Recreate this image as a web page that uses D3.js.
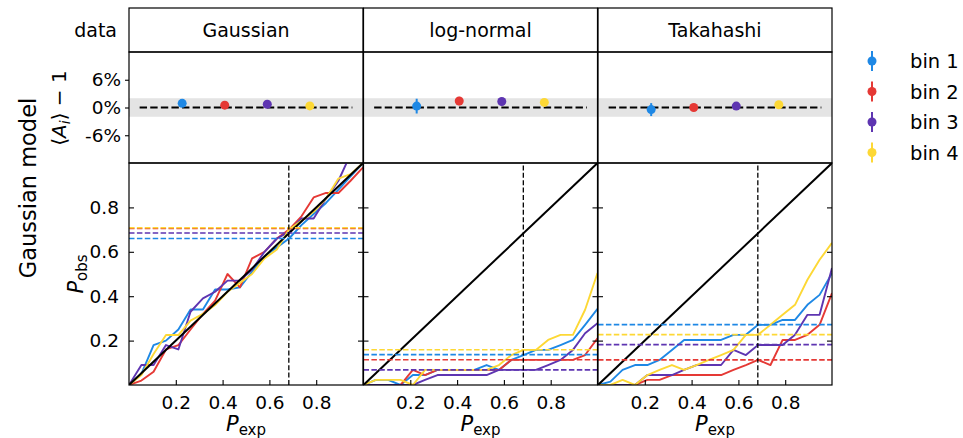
<!DOCTYPE html>
<html><head><meta charset="utf-8">
<script src="https://cdn.jsdelivr.net/npm/d3@7"></script>
<style>body{margin:0;background:#fff}svg{display:block;font-family:"DejaVu Sans",sans-serif}</style>
</head><body>
<script>
// ---------- data ----------
const datasets = ["Gaussian", "log-normal", "Takahashi"];
const binLabels = ["bin 1", "bin 2", "bin 3", "bin 4"];
const binColors = ["#1E88E5", "#E53935", "#5E35B1", "#FDD835"];
const binIndex = [1, 2, 3, 4];
// mean amplitude offset <A_i> - 1 in %, and its error
const meanOffset = [[0.9, 0.5, 0.7, 0.35], [0.3, 1.4, 1.3, 1.1], [-0.45, 0.0, 0.3, 0.6]];
const meanError  = [[0.3, 0.3, 0.3, 0.3], [1.6, 0.9, 0.4, 0.3], [1.4, 0.4, 0.4, 0.4]];
const offsetTicks = [-6, 0, 6];
const offsetTickLabels = ["-6%", "0%", "6%"];
const probTicks = [0.2, 0.4, 0.6, 0.8];
const pExp = [0, 0.053, 0.105, 0.158, 0.211, 0.263, 0.316, 0.368, 0.421, 0.474, 0.526, 0.579, 0.632, 0.684, 0.737, 0.789, 0.842, 0.895, 0.947, 1.0];
const gaussianObs = [
  [0, 0.05, 0.18, 0.20, 0.25, 0.34, 0.34, 0.43, 0.43, 0.44, 0.51, 0.58, 0.62, 0.66, 0.72, 0.77, 0.82, 0.88, 0.94, 1.0],
  [0, 0.02, 0.06, 0.16, 0.18, 0.25, 0.32, 0.38, 0.50, 0.44, 0.57, 0.60, 0.66, 0.70, 0.76, 0.845, 0.865, 0.865, 0.92, 0.98],
  [0, 0.09, 0.09, 0.18, 0.16, 0.33, 0.39, 0.42, 0.47, 0.47, 0.52, 0.60, 0.66, 0.69, 0.75, 0.75, 0.84, 0.92, 1.04, 1.12],
  [0, 0.045, 0.14, 0.225, 0.225, 0.29, 0.32, 0.36, 0.42, 0.46, 0.50, 0.57, 0.61, 0.70, 0.74, 0.78, 0.84, 0.93, 0.95, 1.0]
];
const lognormalObs = [
  [0, 0.023, 0.023, 0, 0.045, 0.045, 0.068, 0.068, 0.068, 0.068, 0.09, 0.068, 0.113, 0.135, 0.158, 0.158, 0.18, 0.203, 0.271, 0.343],
  [0, 0, 0, 0, 0.068, 0.045, 0.068, 0.068, 0.068, 0.068, 0.068, 0.068, 0.113, 0.113, 0.113, 0.113, 0.113, 0.113, 0.135, 0.21],
  [0, 0, 0, 0, 0, 0.023, 0.045, 0.045, 0.045, 0.045, 0.045, 0.068, 0.068, 0.068, 0.068, 0.09, 0.113, 0.158, 0.233, 0.278],
  [0, 0.023, 0.023, 0.023, 0, 0.068, 0.068, 0.068, 0.068, 0.068, 0.068, 0.09, 0.135, 0.158, 0.158, 0.203, 0.226, 0.226, 0.339, 0.504]
];
const takahashiObs = [
  [0, 0.015, 0.068, 0.09, 0.09, 0.113, 0.158, 0.203, 0.203, 0.203, 0.203, 0.226, 0.226, 0.271, 0.271, 0.293, 0.293, 0.361, 0.406, 0.504],
  [0, 0, 0, 0, 0.023, 0.023, 0.045, 0.045, 0.045, 0.045, 0.045, 0.068, 0.09, 0.113, 0.09, 0.203, 0.203, 0.226, 0.271, 0.414],
  [0, 0, 0, 0, 0.045, 0.045, 0.045, 0.068, 0.09, 0.09, 0.09, 0.158, 0.135, 0.18, 0.18, 0.18, 0.226, 0.316, 0.316, 0.527],
  [0, 0, 0.023, 0, 0.045, 0.068, 0.09, 0.068, 0.09, 0.113, 0.135, 0.158, 0.226, 0.226, 0.271, 0.316, 0.361, 0.474, 0.564, 0.64]
];
// observed fraction at the 1-sigma level (horizontal dashed lines)
const sigmaLevelObs = [[0.66, 0.705, 0.685, 0.708], [0.137, 0.114, 0.068, 0.159], [0.272, 0.113, 0.182, 0.227]];
const sigmaLevel = 0.683;
const allObs = [gaussianObs, lognormalObs, takahashiObs];

// ---------- layout ----------
const W = 963, H = 438;
const colLeft = [129, 363.5, 598], colW = 234;
const rowTop = {y0: 8, y1: 52}, rowMid = {y0: 52, y1: 163}, rowBot = {y0: 163, y1: 385};
const FS = 18.5;

const svg = d3.select("body").append("svg").attr("width", W).attr("height", H);
const defs = svg.append("defs");

const yMid = d3.scaleLinear().domain([-12, 12]).range([rowMid.y1, rowMid.y0]);
const yBot = d3.scaleLinear().domain([0, 1]).range([rowBot.y1, rowBot.y0]);

datasets.forEach((name, c) => {
  const x0 = colLeft[c];
  // ----- title row -----
  svg.append("rect").attr("x", x0).attr("y", rowTop.y0).attr("width", colW).attr("height", rowTop.y1 - rowTop.y0)
    .attr("fill", "none").attr("stroke", "#000").attr("stroke-width", 1.2);
  svg.append("text").attr("x", x0 + colW / 2).attr("y", (rowTop.y0 + rowTop.y1) / 2 + 6.5)
    .attr("text-anchor", "middle").attr("font-size", 19).text(name);

  // ----- middle row -----
  const xM = d3.scaleLinear().domain([-0.25, 5.25]).range([x0, x0 + colW]);
  const gM = svg.append("g");
  gM.append("rect").attr("x", x0).attr("y", yMid(2)).attr("width", colW).attr("height", yMid(-2) - yMid(2))
    .attr("fill", "#e4e4e4");
  gM.append("line").attr("x1", xM(0)).attr("x2", xM(5)).attr("y1", yMid(0)).attr("y2", yMid(0))
    .attr("stroke", "#000").attr("stroke-width", 2).attr("stroke-dasharray", "7.4,3.2");
  binIndex.forEach((b, i) => {
    const v = meanOffset[c][i], e = meanError[c][i];
    gM.append("line").attr("x1", xM(b)).attr("x2", xM(b)).attr("y1", yMid(v - e)).attr("y2", yMid(v + e))
      .attr("stroke", binColors[i]).attr("stroke-width", 2);
    gM.append("circle").attr("cx", xM(b)).attr("cy", yMid(v)).attr("r", 4.5).attr("fill", binColors[i]);
  });
  const axM = d3.axisLeft(yMid).tickValues(offsetTicks).tickSize(4).tickFormat((d, i) => c === 0 ? offsetTickLabels[i] : "");
  const gAx = gM.append("g").attr("transform", `translate(${x0},0)`).call(axM);
  gAx.select(".domain").remove();
  gAx.selectAll("text").attr("font-size", FS).attr("font-family", "DejaVu Sans").attr("fill", "#000").attr("dx", -1);
  gAx.selectAll("line").attr("stroke-width", 1.1);
  if (c !== 0) gAx.selectAll(".tick line").remove();
  gM.append("rect").attr("x", x0).attr("y", rowMid.y0).attr("width", colW).attr("height", rowMid.y1 - rowMid.y0)
    .attr("fill", "none").attr("stroke", "#000").attr("stroke-width", 1.2);

  // ----- bottom row -----
  const xB = d3.scaleLinear().domain([0, 1]).range([x0, x0 + colW]);
  const clipId = "clip" + c;
  defs.append("clipPath").attr("id", clipId).append("rect")
    .attr("x", x0).attr("y", rowBot.y0).attr("width", colW).attr("height", rowBot.y1 - rowBot.y0);
  const gB = svg.append("g");
  const gC = gB.append("g").attr("clip-path", `url(#${clipId})`);
  const line = d3.line().x((d, i) => xB(pExp[i])).y(d => yBot(d));
  allObs[c].forEach((series, i) => {
    gC.append("path").datum(series).attr("d", line).attr("fill", "none")
      .attr("stroke", binColors[i]).attr("stroke-width", 1.9).attr("stroke-linejoin", "round");
  });
  gC.append("line").attr("x1", xB(0)).attr("y1", yBot(0)).attr("x2", xB(1)).attr("y2", yBot(1))
    .attr("stroke", "#000").attr("stroke-width", 2);
  sigmaLevelObs[c].forEach((v, i) => {
    gC.append("line").attr("x1", xB(0)).attr("x2", xB(1)).attr("y1", yBot(v)).attr("y2", yBot(v))
      .attr("stroke", binColors[i]).attr("stroke-width", 1.6).attr("stroke-dasharray", "5.5,2.4");
  });
  gC.append("line").attr("x1", xB(sigmaLevel)).attr("x2", xB(sigmaLevel)).attr("y1", yBot(0)).attr("y2", yBot(1))
    .attr("stroke", "#000").attr("stroke-width", 1.3).attr("stroke-dasharray", "5,2.4");

  // axes with inward ticks
  const axL = d3.axisLeft(yBot).tickValues(probTicks).tickSize(-5).tickPadding(10)
    .tickFormat(c === 0 ? d3.format(".1f") : () => "");
  const gL = gB.append("g").attr("transform", `translate(${x0},0)`).call(axL);
  const axR = d3.axisRight(yBot).tickValues(probTicks).tickSize(-5).tickFormat(() => "");
  const gR = gB.append("g").attr("transform", `translate(${x0 + colW},0)`).call(axR);
  const axB = d3.axisBottom(xB).tickValues(probTicks).tickSize(-5).tickPadding(11).tickFormat(d3.format(".1f"));
  const gX = gB.append("g").attr("transform", `translate(0,${rowBot.y1})`).call(axB);
  [gL, gR, gX].forEach(g => {
    g.select(".domain").remove();
    g.selectAll("line").attr("stroke-width", 1.1);
    g.selectAll("text").attr("font-size", FS).attr("font-family", "DejaVu Sans").attr("fill", "#000");
  });
  gB.append("rect").attr("x", x0).attr("y", rowBot.y0).attr("width", colW).attr("height", rowBot.y1 - rowBot.y0)
    .attr("fill", "none").attr("stroke", "#000").attr("stroke-width", 1.2);

  // x label P_exp
  const tx = svg.append("text").attr("x", x0 + colW / 2).attr("y", 431).attr("text-anchor", "middle").attr("font-size", 21);
  tx.append("tspan").attr("font-style", "italic").text("P");
  tx.append("tspan").attr("font-size", 15).attr("dy", 4).text("exp");
});

// ----- left labels -----
svg.append("text").attr("x", 117).attr("y", 37).attr("text-anchor", "end").attr("font-size", 19).text("data");
svg.append("text").attr("transform", "translate(36,188) rotate(-90)").attr("text-anchor", "middle")
  .attr("font-size", 22.5).text("Gaussian model");
const al = svg.append("text").attr("transform", "translate(66,108) rotate(-90)").attr("text-anchor", "middle").attr("font-size", 20);
al.append("tspan").text("\u27E8");
al.append("tspan").attr("font-style", "italic").text("A");
al.append("tspan").attr("font-style", "italic").attr("font-size", 14).attr("dy", 4).text("i");
al.append("tspan").attr("dy", -4).text("\u27E9 \u2212 1");
const pl = svg.append("text").attr("transform", "translate(83,274) rotate(-90)").attr("text-anchor", "middle").attr("font-size", 21);
pl.append("tspan").attr("font-style", "italic").text("P");
pl.append("tspan").attr("font-size", 15).attr("dy", 4).text("obs");

// ----- legend -----
const lg = svg.append("g");
binLabels.forEach((lab, i) => {
  const y = 61 + i * 30.5;
  lg.append("line").attr("x1", 872).attr("x2", 872).attr("y1", y - 10).attr("y2", y + 10)
    .attr("stroke", binColors[i]).attr("stroke-width", 2);
  lg.append("circle").attr("cx", 872).attr("cy", y).attr("r", 4.5).attr("fill", binColors[i]);
  lg.append("text").attr("x", 910).attr("y", y + 7).attr("font-size", 19.5).text(lab);
});
</script>
</body></html>
